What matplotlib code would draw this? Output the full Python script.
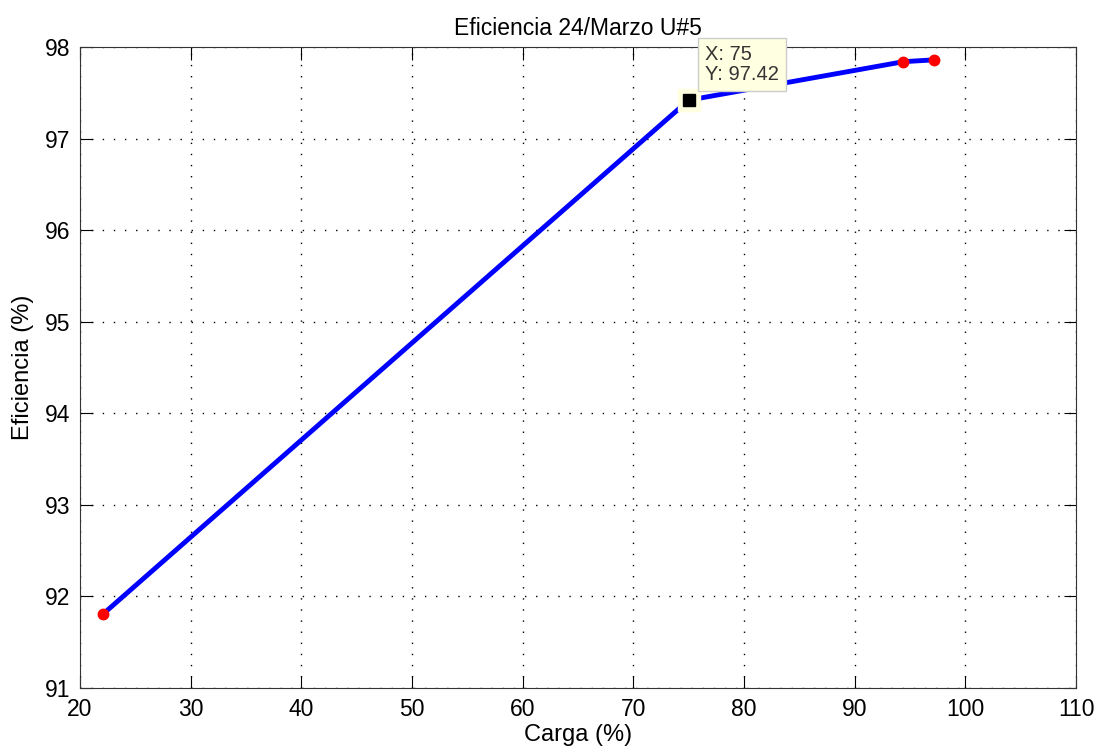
import matplotlib
matplotlib.use('Agg')
import matplotlib.pyplot as plt

# data
carga = [22.1, 75, 94.4, 97.15]
eficiencia = [91.81, 97.42, 97.84, 97.86]
tip_x = 75
tip_y = 97.42
xticks = [20, 30, 40, 50, 60, 70, 80, 90, 100, 110]
yticks = [91, 92, 93, 94, 95, 96, 97, 98]

plt.rcParams['font.family'] = ['Liberation Sans', 'DejaVu Sans']

fig = plt.figure(figsize=(11.05, 7.55), dpi=100)
ax = fig.add_axes([0.0724, 0.0887, 0.9014, 0.849])

ax.plot(carga, eficiencia, color='#0000ff', linewidth=3.5, zorder=3)
ax.plot(carga, eficiencia, 'o', color='#ff0000', markersize=7.5, zorder=4)
# datatip marker: black square on a pale halo
ax.plot([tip_x], [tip_y], 's', color='#ffffe0', markersize=16, zorder=5)
ax.plot([tip_x], [tip_y], 's', color='black', markersize=8, zorder=6)

ax.annotate('X: %g\nY: %.2f' % (tip_x, tip_y), xy=(tip_x, tip_y),
            xytext=(16, 16), textcoords='offset pixels', fontsize=14.5,
            color='#333333', va='bottom', ha='left', linespacing=1.05,
            bbox=dict(boxstyle='square,pad=0.35', fc='#ffffe1', ec='#cccccc', lw=1),
            zorder=7)

ax.set_xlim(20, 110)
ax.set_ylim(91, 98)
ax.set_xticks(xticks)
ax.set_yticks(yticks)
ax.tick_params(direction='in', top=True, right=True, labelsize=16.5, length=9, pad=7)
ax.grid(True, color='black', linestyle=(0, (1, 7)), linewidth=1)

ax.set_xlabel('Carga (%)', fontsize=17, labelpad=2)
ax.set_ylabel('Eficiencia (%)', fontsize=17, labelpad=8)
ax.set_title('Eficiencia 24/Marzo U#5', fontsize=16.5, pad=9)

for s in ax.spines.values():
    s.set_color('#333333')

fig.savefig('out.png', dpi=100)
